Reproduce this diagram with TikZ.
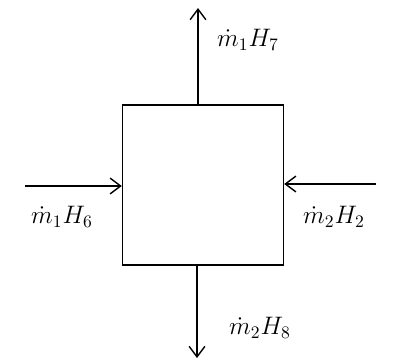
\documentclass[tikz,border=0pt]{standalone}
\usepackage{amsmath}
\usepackage{tikz}
\usetikzlibrary{arrows.meta,positioning,calc}

\begin{document}
\begin{tikzpicture}[x=0.02cm, y=-0.02cm, every node/.style={font=\Large}, flow/.style={-{Straight Barb[length=6pt,width=9pt]}, thick}]
        \useasboundingbox (0,0) rectangle (398,363);
        \node[draw, thick, minimum width=3.22cm, minimum height=3.2cm, inner sep=0pt] (cv) at (203,185) {};
        \coordinate (top) at (198,8);
        \coordinate (bot) at (197,358);
        \coordinate (lin) at (25,186);
        \coordinate (rin) at (376,184);
        \draw[flow] (cv.north -| top) -- (top);
        \draw[flow] (cv.south -| bot) -- (bot);
        \draw[flow] (lin) -- (lin -| cv.west);
        \draw[flow] (rin) -- (rin -| cv.east);
        \node (l7) at (248,40) {$\dot{m}_1 H_7$};
        \node (l6) at (62,217) {$\dot{m}_1 H_6$};
        \node (l2) at (334,217) {$\dot{m}_2 H_2$};
        \node (l8) at (260,328) {$\dot{m}_2 H_8$};
    \end{tikzpicture}
\end{document}
